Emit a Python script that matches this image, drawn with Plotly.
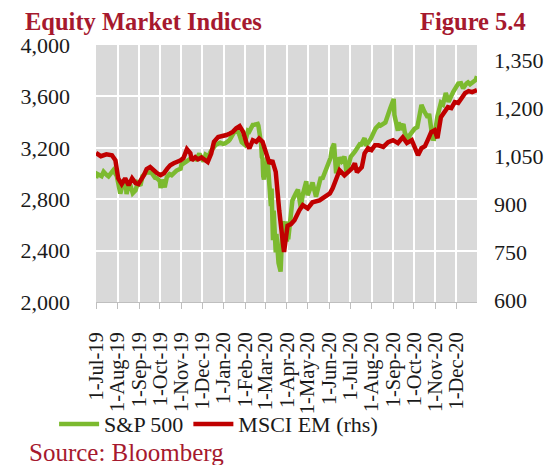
import plotly.graph_objects as go

# S&P 500 (left axis)
spx_dates = ["2019-07-01","2019-07-03","2019-07-09","2019-07-12","2019-07-17","2019-07-19","2019-07-26","2019-07-31",
    "2019-08-01","2019-08-02","2019-08-05","2019-08-07","2019-08-09","2019-08-12","2019-08-13","2019-08-14","2019-08-16",
    "2019-08-20","2019-08-23","2019-08-27","2019-08-30","2019-09-03","2019-09-06","2019-09-12","2019-09-19","2019-09-24",
    "2019-09-27","2019-10-01","2019-10-02","2019-10-03","2019-10-04","2019-10-08","2019-10-11","2019-10-15","2019-10-18",
    "2019-10-25","2019-10-31","2019-11-01","2019-11-08","2019-11-15","2019-11-22","2019-11-27","2019-12-03","2019-12-06",
    "2019-12-10","2019-12-13","2019-12-20","2019-12-27","2019-12-31","2020-01-03","2020-01-08","2020-01-10","2020-01-17",
    "2020-01-22","2020-01-24","2020-01-27","2020-01-31","2020-02-05","2020-02-07","2020-02-12","2020-02-14","2020-02-19",
    "2020-02-20","2020-02-21","2020-02-24","2020-02-25","2020-02-26","2020-02-27","2020-02-28","2020-03-02","2020-03-03",
    "2020-03-04","2020-03-05","2020-03-06","2020-03-09","2020-03-10","2020-03-11","2020-03-12","2020-03-13","2020-03-16",
    "2020-03-17","2020-03-18","2020-03-19","2020-03-20","2020-03-23","2020-03-24","2020-03-25","2020-03-26","2020-03-27",
    "2020-03-30","2020-03-31","2020-04-01","2020-04-02","2020-04-03","2020-04-06","2020-04-08","2020-04-09","2020-04-14",
    "2020-04-17","2020-04-21","2020-04-24","2020-04-29","2020-05-01","2020-05-08","2020-05-13","2020-05-15","2020-05-20",
    "2020-05-22","2020-05-27","2020-05-29","2020-06-03","2020-06-05","2020-06-08","2020-06-11","2020-06-16","2020-06-19",
    "2020-06-23","2020-06-26","2020-06-30","2020-07-02","2020-07-08","2020-07-10","2020-07-15","2020-07-17","2020-07-22",
    "2020-07-24","2020-07-31","2020-08-07","2020-08-12","2020-08-14","2020-08-21","2020-08-28","2020-09-02","2020-09-03",
    "2020-09-04","2020-09-08","2020-09-09","2020-09-11","2020-09-16","2020-09-18","2020-09-21","2020-09-23","2020-09-25",
    "2020-10-02","2020-10-06","2020-10-09","2020-10-12","2020-10-16","2020-10-21","2020-10-23","2020-10-28","2020-10-30",
    "2020-11-04","2020-11-09","2020-11-12","2020-11-16","2020-11-20","2020-11-27","2020-12-04","2020-12-08","2020-12-11",
    "2020-12-16","2020-12-18","2020-12-21","2020-12-24","2020-12-29","2020-12-31"]
spx_values = [2964,2996,2979,3014,2985,2977,3026,2980,
    2953,2932,2844,2884,2919,2883,2926,2840,2889,
    2900,2847,2869,2926,2906,2979,3010,3006,2966,
    2962,2941,2887,2911,2952,2893,2970,2995,2986,
    3023,3038,3067,3093,3120,3110,3154,3093,3146,
    3133,3169,3221,3240,3231,3235,3253,3265,3330,
    3321,3295,3244,3226,3334,3328,3379,3380,3386,
    3373,3338,3226,3128,3116,2979,2954,3090,3003,
    3130,3024,2972,2747,2882,2741,2481,2711,2386,
    2529,2398,2409,2305,2237,2447,2476,2630,2541,
    2627,2585,2471,2527,2489,2664,2750,2790,2846,
    2875,2737,2837,2940,2831,2930,2820,2864,2972,
    2955,3036,3044,3123,3194,3232,3002,3125,3098,
    3131,3009,3100,3130,3169,3185,3227,3225,3276,
    3216,3271,3351,3380,3373,3397,3508,3580,3455,
    3427,3332,3399,3341,3385,3319,3281,3237,3298,
    3348,3361,3477,3534,3484,3436,3465,3271,3270,
    3443,3550,3537,3627,3558,3638,3699,3702,3663,
    3702,3709,3694,3703,3727,3756]

# MSCI EM (right axis)
em_dates = ["2019-07-01","2019-07-08","2019-07-16","2019-07-24","2019-07-29","2019-08-02","2019-08-07","2019-08-12",
    "2019-08-17","2019-08-22","2019-08-27","2019-08-31","2019-09-08","2019-09-12","2019-09-17","2019-09-22",
    "2019-09-27","2019-10-02","2019-10-07","2019-10-12","2019-10-16","2019-10-21","2019-10-26","2019-10-31",
    "2019-11-04","2019-11-09","2019-11-14","2019-11-16","2019-11-21","2019-11-25","2019-11-30","2019-12-05",
    "2019-12-09","2019-12-14","2019-12-18","2019-12-24","2019-12-31","2020-01-05","2020-01-10","2020-01-14",
    "2020-01-19","2020-01-24","2020-01-29","2020-02-03","2020-02-07","2020-02-12","2020-02-17","2020-02-21",
    "2020-02-26","2020-03-02","2020-03-07","2020-03-11","2020-03-16","2020-03-21","2020-03-24","2020-03-27",
    "2020-03-28","2020-04-02","2020-04-07","2020-04-12","2020-04-19","2020-04-24","2020-05-01","2020-05-08",
    "2020-05-18","2020-05-26","2020-06-02","2020-06-06","2020-06-12","2020-06-16","2020-06-23","2020-06-28",
    "2020-07-04","2020-07-08","2020-07-11","2020-07-18","2020-07-22","2020-07-27","2020-08-01","2020-08-06",
    "2020-08-11","2020-08-18","2020-08-25","2020-09-01","2020-09-08","2020-09-15","2020-09-21","2020-09-28",
    "2020-10-03","2020-10-07","2020-10-12","2020-10-17","2020-10-21","2020-10-26","2020-10-31","2020-11-04",
    "2020-11-09","2020-11-14","2020-11-19","2020-11-24","2020-11-29","2020-12-04","2020-12-09","2020-12-14",
    "2020-12-19","2020-12-24","2020-12-31"]
em_values = [1060,1050,1056,1053,1037,981,963,981,
    959,981,966,963,991,1010,1016,1006,
    997,991,997,1012,1022,1028,1032,1037,
    1044,1072,1059,1037,1047,1040,1046,1040,
    1032,1058,1095,1110,1112,1116,1121,1126,
    1137,1144,1126,1090,1074,1100,1095,1105,
    1095,1063,1027,1037,1001,881,808,767,
    751,833,838,850,881,897,887,906,
    912,922,934,950,984,1006,990,1000,
    1012,1028,1000,1016,1059,1075,1069,1084,
    1084,1079,1094,1100,1091,1109,1091,1100,
    1069,1053,1075,1081,1100,1125,1131,1106,
    1172,1188,1203,1200,1219,1216,1231,1247,
    1253,1250,1256]

tick_months = ["2019-07-01","2019-08-01","2019-09-01","2019-10-01","2019-11-01","2019-12-01",
    "2020-01-01","2020-02-01","2020-03-01","2020-04-01","2020-05-01","2020-06-01",
    "2020-07-01","2020-08-01","2020-09-01","2020-10-01","2020-11-01","2020-12-01"]
tick_labels = ["1-Jul-19","1-Aug-19","1-Sep-19","1-Oct-19","1-Nov-19","1-Dec-19",
    "1-Jan-20","1-Feb-20","1-Mar-20","1-Apr-20","1-May-20","1-Jun-20",
    "1-Jul-20","1-Aug-20","1-Sep-20","1-Oct-20","1-Nov-20","1-Dec-20"]
left_ticks = [2000, 2400, 2800, 3200, 3600, 4000]
right_ticks = [600, 750, 900, 1050, 1200, 1350]

FONT = "Liberation Serif"
DARKRED = "#A6192E"
TXT = "#1a1a1a"

fig = go.Figure()
fig.add_trace(go.Scatter(x=spx_dates, y=spx_values, name="S&P 500", mode="lines",
                         line=dict(color="#7CBA2F", width=4.5)))
fig.add_trace(go.Scatter(x=em_dates, y=em_values, name="MSCI EM (rhs)", mode="lines",
                         line=dict(color="#C00000", width=4.5), yaxis="y2"))

# page body adds an 8px offset, so margins are shifted by 8px
fig.update_layout(
    width=552, height=465,
    margin=dict(l=88, r=83, t=37, b=171, autoexpand=False),
    paper_bgcolor="white", plot_bgcolor="#D9D9D9",
    font=dict(family=FONT, size=22, color=TXT),
    xaxis=dict(type="date", range=["2019-07-01", "2020-12-31"],
               tickvals=tick_months, ticktext=tick_labels, tickangle=-90,
               tickfont=dict(family=FONT, size=20.5, color=TXT),
               showgrid=True, gridcolor="white", gridwidth=2,
               ticks="outside", ticklen=6, tickcolor="#BFBFBF", tickwidth=1,
               showline=True, linecolor="#BFBFBF", linewidth=1,
               ticklabelstandoff=15, zeroline=False, automargin=False),
    yaxis=dict(range=[2000, 4000], tickvals=left_ticks, tickformat=",",
               tickfont=dict(family=FONT, size=22, color=TXT),
               showgrid=True, gridcolor="white", gridwidth=2, zeroline=False,
               ticks="", ticklabelstandoff=25, automargin=False),
    yaxis2=dict(range=[595, 1397], tickvals=right_ticks, tickformat=",",
                tickfont=dict(family=FONT, size=22, color=TXT),
                overlaying="y", side="right", showgrid=False, zeroline=False,
                ticks="", ticklabelstandoff=16, automargin=False),
    legend=dict(orientation="h", x=-0.11, xanchor="left", y=-0.475, yanchor="middle",
                font=dict(family=FONT, size=22, color=TXT), bgcolor="rgba(0,0,0,0)",
                itemwidth=40, tracegroupgap=0),
    showlegend=True,
)

fig.add_annotation(text="<b>Equity Market Indices</b>", xref="paper", yref="paper",
                   x=-0.189, y=1.093, xanchor="left", yanchor="middle", showarrow=False,
                   borderpad=0, font=dict(family=FONT, size=24.5, color=DARKRED))
fig.add_annotation(text="<b>Figure 5.4</b>", xref="paper", yref="paper",
                   x=1.131, y=1.093, xanchor="right", yanchor="middle", showarrow=False,
                   borderpad=0, font=dict(family=FONT, size=24.5, color=DARKRED))
fig.add_annotation(text="Source: Bloomberg", xref="paper", yref="paper",
                   x=-0.178, y=-0.585, xanchor="left", yanchor="middle", showarrow=False,
                   borderpad=0, font=dict(family=FONT, size=25, color=DARKRED))

fig.write_html("out.html")
